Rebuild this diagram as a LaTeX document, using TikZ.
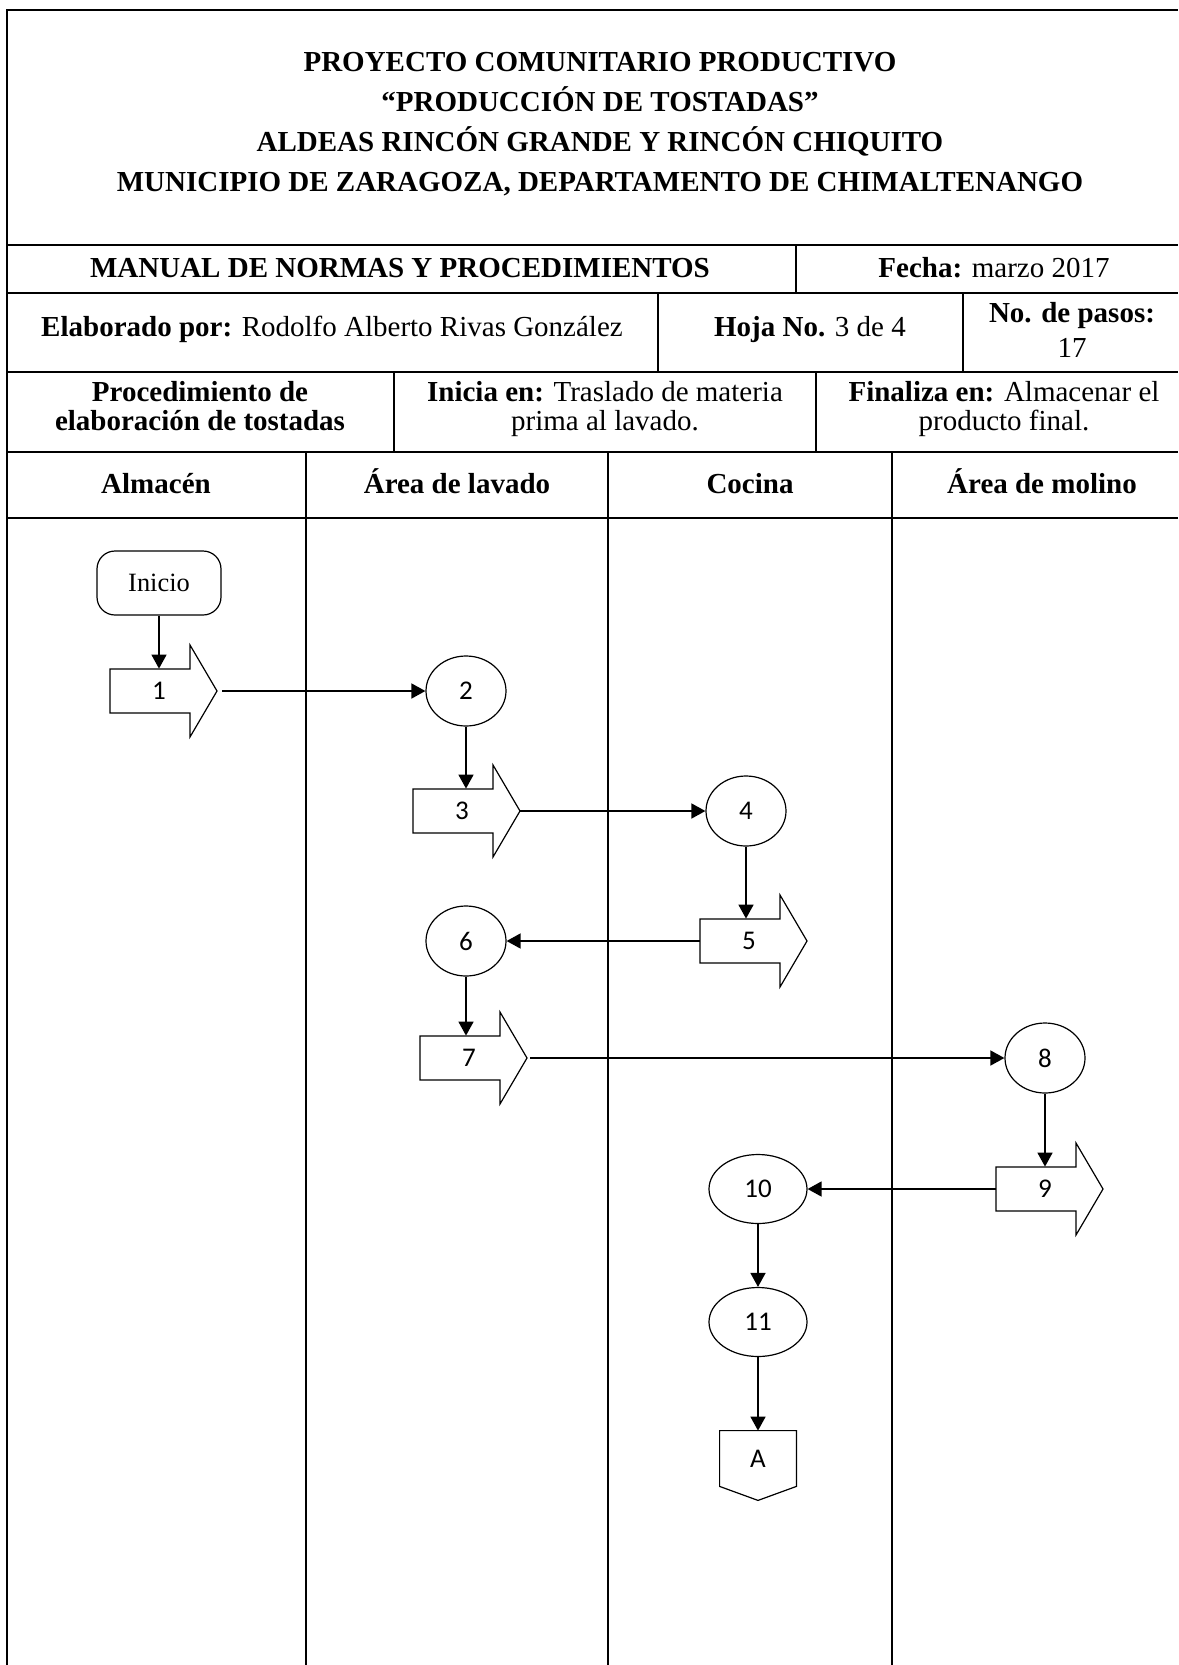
\documentclass[tikz,border=0pt]{standalone}
\usepackage{fontspec}
\setmainfont{Liberation Serif}
\newfontfamily\calfont{Carlito}
\usetikzlibrary{arrows.meta,shapes.geometric}

\tikzset{
  tline/.style={line width=0.9pt},
  shp/.style={draw, line width=0.6pt},
  conn/.style={line width=0.8pt, -{Triangle[length=7pt,width=7.5pt]}},
  hdr/.style={font=\fontsize{14.5}{17}\selectfont, anchor=base, inner sep=0},
  hdrb/.style={font=\bfseries\fontsize{14.5}{17}\selectfont, anchor=base, inner sep=0},
  num/.style={font=\calfont\fontsize{13.5}{15}\selectfont},
  oval/.style={shp, ellipse, inner sep=0, minimum width=40pt, minimum height=35pt, num},
  bigoval/.style={oval, minimum width=49pt, minimum height=34.5pt},
}

\newcommand{\blkarrow}[4]{%
  \draw[shp] (#2,#3-22) -- (#2+80,#3-22) -- (#2+80,#3-46) -- (#2+107,#3) -- (#2+80,#3+46) -- (#2+80,#3+22) -- (#2,#3+22) -- cycle;
  \node[inner sep=0, minimum width=40pt, minimum height=22pt] (#1) at (#2+40,#3) {};
  \node[num, inner sep=0] (#1t) at (#2+49,#3) {#4};
  \coordinate (#1tip) at (#2+107,#3);
}

\begin{document}
\begin{tikzpicture}[x=0.5pt,y=-0.5pt]
\useasboundingbox (0,0) rectangle (1178,1665);
\fill[white] (0,0) rectangle (1178,1665);

% table frame
\draw[tline] (7,1665) -- (7,10) -- (1178,10);
\foreach \yy in {245,293,372,452,518} {\draw[tline] (7,\yy) -- (1178,\yy);}
\draw[tline] (796,245) -- (796,293);
\draw[tline] (658,293) -- (658,372);
\draw[tline] (963,293) -- (963,372);
\draw[tline] (394,372) -- (394,452);
\draw[tline] (816,372) -- (816,452);
\foreach \xx in {306,608,892} {\draw[tline] (\xx,452) -- (\xx,1665);}

% titles
\node[hdrb] (ti1) at (600,71) {PROYECTO COMUNITARIO PRODUCTIVO};
\node[hdrb] (ti2) at (600,111) {“PRODUCCIÓN DE TOSTADAS”};
\node[hdrb] (ti3) at (600,151) {ALDEAS RINCÓN GRANDE Y RINCÓN CHIQUITO};
\node[hdrb] (ti4) at (600,191) {MUNICIPIO DE ZARAGOZA, DEPARTAMENTO DE CHIMALTENANGO};

\node[hdrb] (man) at (400,277) {MANUAL DE NORMAS Y PROCEDIMIENTOS};
\node[hdr] (fec) at (994,277) {\textbf{Fecha:} marzo 2017};

\node[hdr] (ela) at (332,336) {\textbf{Elaborado por:} Rodolfo Alberto Rivas González};
\node[hdr] (hoj) at (810,336) {\textbf{Hoja No.} 3 de 4};
\node[hdr] (pa1) at (1072,322) {\textbf{No. de pasos:}};
\node[hdr] (pa2) at (1072,357) {17};

\node[hdrb] (pr1) at (200,401) {Procedimiento de};
\node[hdrb] (pr2) at (200,430) {elaboración de tostadas};
\node[hdr] (in1) at (605,401) {\textbf{Inicia en:} Traslado de materia};
\node[hdr] (in2) at (605,430) {prima al lavado.};
\node[hdr] (fi1) at (1004,401) {\textbf{Finaliza en:} Almacenar el};
\node[hdr] (fi2) at (1004,430) {producto final.};

\node[hdrb] (l1) at (156,493) {Almacén};
\node[hdrb] (l2) at (457,493) {Área de lavado};
\node[hdrb] (l3) at (750,493) {Cocina};
\node[hdrb] (l4) at (1042,493) {Área de molino};

% flow
\node[shp, rounded corners=9pt, minimum width=62pt, minimum height=32pt, inner sep=0, font=\fontsize{13.2}{15}\selectfont] (inicio) at (159,583) {Inicio};
\blkarrow{a1}{110}{691}{1}
\node[oval] (c2) at (466,691) {2};
\blkarrow{a3}{413}{811}{3}
\node[oval] (c4) at (746,811) {4};
\blkarrow{a5}{700}{941}{5}
\node[oval] (c6) at (466,941) {6};
\blkarrow{a7}{420}{1058}{7}
\node[oval] (c8) at (1045,1058) {8};
\blkarrow{a9}{996}{1189}{9}
\node[bigoval] (c10) at (758,1189) {10};
\node[bigoval] (c11) at (758,1322) {11};
\node[num, inner sep=0, minimum width=38pt, minimum height=27.5pt] (conA) at (758,1458.5) {A};
\draw[shp] (conA.north west) -- (conA.north east) -- (conA.south east) -- ([yshift=-7pt]conA.south) -- (conA.south west) -- cycle;

\draw[conn] (inicio.south) -- (inicio.south |- a1.north);
\draw[conn] ([xshift=2.5pt]a1tip) -- (c2.west);
\draw[conn] (c2.south) -- (c2.south |- a3.north);
\draw[conn] (a3tip) -- (c4.west);
\draw[conn] (c4.south) -- (c4.south |- a5.north);
\draw[conn] (a5.west) -- (c6.east);
\draw[conn] (c6.south) -- (c6.south |- a7.north);
\draw[conn] ([xshift=1.5pt]a7tip) -- (c8.west);
\draw[conn] (c8.south) -- (c8.south |- a9.north);
\draw[conn] (a9.west) -- (c10.east);
\draw[conn] (c10.south) -- (c11.north);
\draw[conn] (c11.south) -- (conA.north);
\end{tikzpicture}
\end{document}
